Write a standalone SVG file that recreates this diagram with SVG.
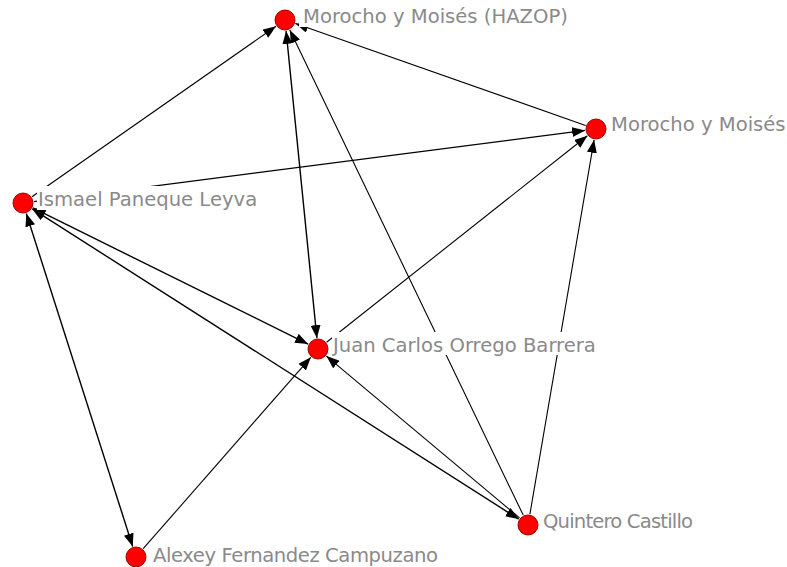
<svg xmlns="http://www.w3.org/2000/svg" width="787" height="567" viewBox="0 0 787 567">
<style>
.e{stroke:#000;stroke-width:1.1;fill:none}
.e2{stroke:#000;stroke-width:1.4;fill:none}
.n{fill:#ff0000;stroke:#a00000;stroke-width:1}
.bg{fill:#fff}
.t{font-family:"DejaVu Sans",Verdana,sans-serif;font-size:19.6px;fill:#8a8a8a}
</style>
<defs>
<marker id="ah" markerUnits="userSpaceOnUse" markerWidth="14" markerHeight="10" refX="13" refY="5" orient="auto-start-reverse" viewBox="0 0 14 10">
<path d="M0,0 L13,5 L0,10 Z" fill="#000"/>
</marker>
</defs>
<rect width="787" height="567" fill="#fff"/>
<g id="edges">
<line class="e" x1="32.0" y1="196.7" x2="276.0" y2="26.3" marker-end="url(#ah)"/>
<line class="e" x1="585.6" y1="125.4" x2="295.4" y2="23.6" marker-end="url(#ah)"/>
<line class="e2" x1="286.1" y1="30.9" x2="316.9" y2="338.1" marker-start="url(#ah)" marker-end="url(#ah)"/>
<line class="e" x1="523.2" y1="515.1" x2="289.8" y2="29.9" marker-end="url(#ah)"/>
<line class="e" x1="33.9" y1="201.6" x2="585.1" y2="130.4" marker-end="url(#ah)"/>
<line class="e" x1="326.6" y1="342.2" x2="587.4" y2="135.8" marker-end="url(#ah)"/>
<line class="e2" x1="32.9" y1="207.9" x2="308.1" y2="344.1" marker-start="url(#ah)" marker-end="url(#ah)"/>
<line class="e2" x1="32.3" y1="208.9" x2="518.7" y2="519.1" marker-start="url(#ah)" marker-end="url(#ah)"/>
<line class="e2" x1="26.3" y1="213.5" x2="132.7" y2="546.5" marker-start="url(#ah)" marker-end="url(#ah)"/>
<line class="e" x1="143.2" y1="548.7" x2="310.8" y2="357.3" marker-end="url(#ah)"/>
<line class="e" x1="519.6" y1="517.9" x2="326.4" y2="356.1" marker-end="url(#ah)"/>
<line class="e" x1="529.9" y1="514.2" x2="594.1" y2="139.8" marker-end="url(#ah)"/>
</g>
<g id="node-hazop">
<rect class="bg" x="299" y="3" width="270" height="24"/>
<circle class="n" cx="285" cy="20" r="10"/>
<text class="t" x="303" y="23">Morocho y Moisés (HAZOP)</text>
</g>
<g id="node-morocho">
<rect class="bg" x="610" y="111" width="177" height="24"/>
<circle class="n" cx="596" cy="129" r="10"/>
<text class="t" x="611" y="131">Morocho y Moisés</text>
</g>
<g id="node-ismael">
<rect class="bg" x="37" y="186" width="222" height="24"/>
<circle class="n" cx="23" cy="203" r="10"/>
<text class="t" x="38" y="206">Ismael Paneque Leyva</text>
</g>
<g id="node-juan">
<rect class="bg" x="332" y="332" width="264" height="23"/>
<circle class="n" cx="318" cy="349" r="10"/>
<text class="t" x="333" y="352">Juan Carlos Orrego Barrera</text>
</g>
<g id="node-quintero">
<rect class="bg" x="542" y="508" width="152" height="24"/>
<circle class="n" cx="528" cy="525" r="10"/>
<text class="t" x="543" y="528" textLength="150">Quintero Castillo</text>
</g>
<g id="node-alexey">
<rect class="bg" x="150" y="542" width="292" height="25"/>
<circle class="n" cx="136" cy="557" r="10"/>
<text class="t" x="153" y="562" textLength="285">Alexey Fernandez Campuzano</text>
</g>
</svg>
